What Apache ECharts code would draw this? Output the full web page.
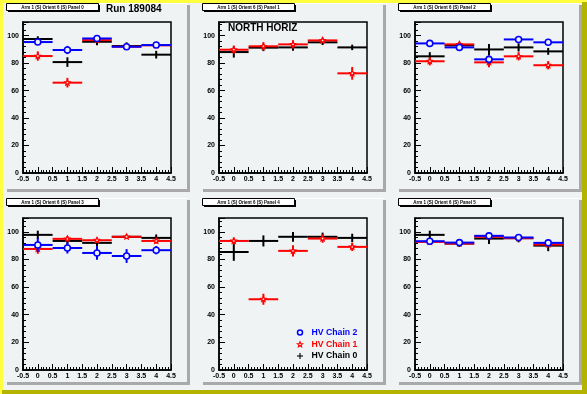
<!DOCTYPE html>
<html><head><meta charset="utf-8">
<script src="https://cdn.jsdelivr.net/npm/echarts/dist/echarts.min.js"></script>
<style>html,body{margin:0;padding:0;background:#eff3f4}#c{width:587px;height:394px}</style>
</head><body><div id="c"></div>
<script>
// ---- data ----
var bins = [0, 1, 2, 3, 4];
var xTicks = [-0.5, 0, 0.5, 1, 1.5, 2, 2.5, 3, 3.5, 4, 4.5];
var yTicks = [0, 20, 40, 60, 80, 100];
var panelTitles = ["Arm 1 (S) Orient 6 (S) Panel 0","Arm 1 (S) Orient 6 (S) Panel 1","Arm 1 (S) Orient 6 (S) Panel 2",
                   "Arm 1 (S) Orient 6 (S) Panel 3","Arm 1 (S) Orient 6 (S) Panel 4","Arm 1 (S) Orient 6 (S) Panel 5"];
var chainNames = ["HV Chain 2", "HV Chain 1", "HV Chain 0"];

var p0_chain2 = [95.4, 89.6, 98.0, 92.0, 93.2], p0_chain2_err = [2, 3, 1.5, 2, 1.5];
var p0_chain1 = [85.2, 65.8, 96.8, 92.0, 93.0], p0_chain1_err = [3.4, 3.5, 1.5, 1.5, 1.5];
var p0_chain0 = [97.6, 80.8, 95.6, 92.5, 86.2], p0_chain0_err = [2, 3.5, 2.5, 2.7, 2.8];

var p1_chain2 = [], p1_chain2_err = [];
var p1_chain1 = [89.8, 92.3, 93.7, 96.6, 72.6], p1_chain1_err = [3, 3, 3, 2, 4.6];
var p1_chain0 = [88.1, 91.3, 91.5, 95.2, 91.5], p1_chain0_err = [4, 2.5, 2.5, 2, 2];

var p2_chain2 = [94.4, 91.5, 82.8, 97.3, 95.2], p2_chain2_err = [1.5, 1.5, 3, 1.5, 1.5];
var p2_chain1 = [81.4, 93.7, 80.6, 85.0, 78.5], p2_chain1_err = [3, 2, 3.5, 3, 3];
var p2_chain0 = [85.0, 93.0, 90.0, 91.5, 88.6], p2_chain0_err = [3, 2, 4, 3, 2.5];

var p3_chain2 = [90.5, 88.3, 84.7, 82.5, 86.7], p3_chain2_err = [5, 4, 5, 5, 3];
var p3_chain1 = [87.6, 94.9, 93.9, 96.4, 93.4], p3_chain1_err = [3.5, 2, 2, 1.5, 2];
var p3_chain0 = [97.8, 93.4, 92.0, 96.4, 95.6], p3_chain0_err = [3, 2.5, 2.5, 1.5, 2.5];

var p4_chain2 = [], p4_chain2_err = [];
var p4_chain1 = [93.4, 51.2, 86.2, 95.1, 89.1], p4_chain1_err = [2.5, 4, 4, 3, 3];
var p4_chain0 = [85.4, 93.4, 96.4, 96.4, 95.6], p4_chain0_err = [6.4, 4, 3.5, 3, 3];

var p5_chain2 = [93.2, 92.2, 97.1, 95.9, 92.0], p5_chain2_err = [2, 2, 1.5, 2, 2];
var p5_chain1 = [92.7, 91.5, 96.4, 95.4, 90.8], p5_chain1_err = [2, 2, 1.5, 2, 2];
var p5_chain0 = [97.8, 91.5, 95.1, 95.4, 90.0], p5_chain0_err = [3, 2.5, 4, 3, 4];

var panels = [
  [p0_chain2, p0_chain2_err, p0_chain1, p0_chain1_err, p0_chain0, p0_chain0_err],
  [p1_chain2, p1_chain2_err, p1_chain1, p1_chain1_err, p1_chain0, p1_chain0_err],
  [p2_chain2, p2_chain2_err, p2_chain1, p2_chain1_err, p2_chain0, p2_chain0_err],
  [p3_chain2, p3_chain2_err, p3_chain1, p3_chain1_err, p3_chain0, p3_chain0_err],
  [p4_chain2, p4_chain2_err, p4_chain1, p4_chain1_err, p4_chain0, p4_chain0_err],
  [p5_chain2, p5_chain2_err, p5_chain1, p5_chain1_err, p5_chain0, p5_chain0_err]
];

// ---- layout / style ----
var BG = '#eff3f4';
var COLORS = ['#0000ff', '#ff0000', '#000000'];
var padX = [5, 201, 397], padY = [3, 198], padW = 182, padH = [186, 184];
var gridL = [23, 219, 415], gridT = [22, 218], gridW = 148, gridH = [151, 152];
var FONT = '"Liberation Sans", Arial, sans-serif';

function starPoints(cx, cy, ro, ri) {
  var pts = [];
  for (var i = 0; i < 10; i++) {
    var a = -Math.PI / 2 + i * Math.PI / 5;
    var r = i % 2 === 0 ? ro : ri;
    pts.push([cx + r * Math.cos(a), cy + r * Math.sin(a)]);
  }
  return pts;
}

function makeRender(chain) {
  var col = COLORS[chain];
  return function (params, api) {
    var x = api.value(0), y = api.value(1), e = api.value(2);
    var c = api.coord([x, y]);
    var l = api.coord([x - 0.5, y]), r = api.coord([x + 0.5, y]);
    var t = api.coord([x, y + e]), b = api.coord([x, y - e]);
    var ch = [
      {type: 'line', shape: {x1: l[0], y1: c[1], x2: r[0], y2: c[1]}, style: {stroke: col, lineWidth: 2}},
      {type: 'line', shape: {x1: c[0], y1: t[1], x2: c[0], y2: b[1]}, style: {stroke: col, lineWidth: 2}}
    ];
    if (chain === 0) ch.push({type: 'circle', shape: {cx: c[0], cy: c[1], r: 3}, style: {fill: BG, stroke: col, lineWidth: 1.6}});
    if (chain === 1) ch.push({type: 'polygon', shape: {points: starPoints(c[0], c[1], 2.8, 1.3)}, style: {fill: BG, stroke: col, lineWidth: 1.2}});
    return {type: 'group', children: ch};
  };
}

var grids = [], xAxes = [], yAxes = [], series = [], graphic = [];

// canvas borders
graphic.push({type: 'rect', shape: {x: 0, y: 0, width: 587, height: 394}, style: {fill: BG}, z: -20});
graphic.push({type: 'rect', shape: {x: 0, y: 0, width: 587, height: 3}, style: {fill: '#ffff40'}, z: 50});
graphic.push({type: 'rect', shape: {x: 0, y: 0, width: 3, height: 394}, style: {fill: '#ffff40'}, z: 50});
graphic.push({type: 'rect', shape: {x: 582, y: 2, width: 5, height: 392}, style: {fill: '#b4b400'}, z: 50});
graphic.push({type: 'rect', shape: {x: 2, y: 390, width: 585, height: 4}, style: {fill: '#b4b400'}, z: 50});

for (var p = 0; p < 6; p++) {
  var col = p % 3, row = Math.floor(p / 3);
  var px = padX[col], py = padY[row], ph = padH[row];
  // pad shadow
  graphic.push({type: 'rect', shape: {x: px + padW, y: py + 2, width: 3, height: ph}, style: {fill: '#a9a9a9'}, z: -5});
  graphic.push({type: 'rect', shape: {x: px + 2, y: py + ph, width: padW + 1, height: 3}, style: {fill: '#a9a9a9'}, z: -5});
  graphic.push({type: 'rect', shape: {x: px, y: py, width: padW, height: 1}, style: {fill: '#ffffff'}, z: -5});
  // title box
  graphic.push({type: 'rect', shape: {x: px + 3, y: py + 2, width: 92, height: 7}, style: {fill: '#000'}, z: 40});
  graphic.push({type: 'rect', shape: {x: px + 1.5, y: py + 0.5, width: 92, height: 7}, style: {fill: '#fff', stroke: '#000', lineWidth: 1}, z: 41});
  graphic.push({type: 'text', x: px + 47.5, y: py + 4.3, style: {text: panelTitles[p], fill: '#000', font: 'bold 4.5px ' + FONT, align: 'center', verticalAlign: 'middle'}, z: 42});

  grids.push({left: gridL[col], top: gridT[row], width: gridW, height: gridH[row], show: true,
    borderColor: '#000', borderWidth: 1.5, backgroundColor: 'transparent'});
  xAxes.push({gridIndex: p, type: 'value', min: xTicks[0], max: xTicks[xTicks.length - 1], interval: 0.5,
    axisLine: {show: true, onZero: false, lineStyle: {color: '#000', width: 1.5}},
    axisTick: {show: true, inside: true, length: 6, lineStyle: {color: '#000', width: 1}},
    minorTick: {show: true, splitNumber: 5, length: 3, lineStyle: {color: '#000', width: 1}},
    splitLine: {show: false}, minorSplitLine: {show: false},
    axisLabel: {color: '#000', fontSize: 7, fontWeight: 'bold', fontFamily: FONT, margin: 3,
      showMinLabel: true, showMaxLabel: true,
      formatter: function (v) { return xTicks.indexOf(Math.round(v * 10) / 10) >= 0 ? String(Math.round(v * 10) / 10) : ''; }}});
  yAxes.push({gridIndex: p, type: 'value', min: 0, max: 110, interval: 20,
    axisLine: {show: true, onZero: false, lineStyle: {color: '#000', width: 1.5}},
    axisTick: {show: true, inside: true, length: 6, lineStyle: {color: '#000', width: 1}},
    minorTick: {show: true, splitNumber: 5, length: 3, lineStyle: {color: '#000', width: 1}},
    splitLine: {show: false}, minorSplitLine: {show: false},
    axisLabel: {color: '#000', fontSize: 7, fontWeight: 'bold', fontFamily: FONT, margin: 4,
      formatter: function (v) { return yTicks.indexOf(v) >= 0 ? String(v) : ''; }}});

  var d = panels[p];
  for (var ci = 2; ci >= 0; ci--) {
    var vals = d[ci * 2], errs = d[ci * 2 + 1];
    var data = [];
    for (var i = 0; i < vals.length; i++) data.push([bins[i], vals[i], errs[i]]);
    series.push({type: 'custom', name: chainNames[ci], xAxisIndex: p, yAxisIndex: p,
      renderItem: makeRender(ci), data: data, encode: {x: 0, y: 1}, z: 10 - ci, clip: false, silent: true});
  }
}

// titles
graphic.push({type: 'text', x: 106, y: 9, style: {text: 'Run 189084', fill: '#000', font: 'bold 10px ' + FONT, verticalAlign: 'middle'}, z: 60});
graphic.push({type: 'text', x: 228, y: 28, style: {text: 'NORTH HORIZ', fill: '#000', font: 'bold 10px ' + FONT, verticalAlign: 'middle'}, z: 60});

// legend
var legY = [332.5, 344.5, 356];
graphic.push({type: 'circle', shape: {cx: 300, cy: legY[0], r: 2.5}, style: {fill: BG, stroke: COLORS[0], lineWidth: 1.5}, z: 60});
graphic.push({type: 'polygon', shape: {points: starPoints(300, legY[1], 2.8, 1.2)}, style: {fill: BG, stroke: COLORS[1], lineWidth: 1.1}, z: 60});
graphic.push({type: 'line', shape: {x1: 297, y1: legY[2], x2: 303, y2: legY[2]}, style: {stroke: '#000', lineWidth: 1.1}, z: 60});
graphic.push({type: 'line', shape: {x1: 300, y1: legY[2] - 3, x2: 300, y2: legY[2] + 3}, style: {stroke: '#000', lineWidth: 1.1}, z: 60});
for (var k = 0; k < 3; k++) {
  graphic.push({type: 'text', x: 311.5, y: legY[k], style: {text: chainNames[k], fill: COLORS[k], font: 'bold 8.7px ' + FONT, verticalAlign: 'middle'}, z: 60});
}

var chart = echarts.init(document.getElementById('c'), null, {renderer: 'canvas'});
chart.setOption({animation: false, backgroundColor: BG, grid: grids, xAxis: xAxes, yAxis: yAxes, series: series, graphic: graphic});
</script></body></html>
